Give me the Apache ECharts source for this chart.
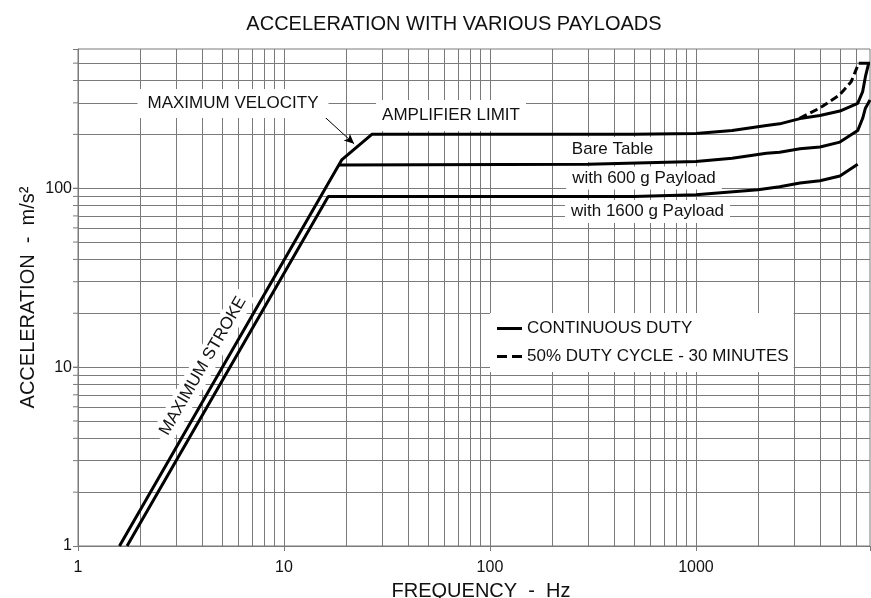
<!DOCTYPE html>
<html>
<head>
<meta charset="utf-8">
<script src="https://cdn.jsdelivr.net/npm/echarts@6.0.0/dist/echarts.min.js"></script>
<style>
  html, body { margin: 0; padding: 0; background: #fff; }
  #chart { width: 871px; height: 598px; }
</style>
</head>
<body>
<div id="chart"></div>
<script>
// curves: [frequency Hz, acceleration m/s2]
const bareTable = [[1.59, 1], [19.06, 144], [26.7, 200], [500, 200], [1000, 202], [1500, 210], [2200, 224], [2550, 229], [3200, 245], [4000, 255], [5000, 270], [6100, 298], [6450, 347], [6650, 420], [6900, 500]];
const payload600 = [[18.47, 135], [300, 136], [1000, 141], [1500, 147], [2200, 157], [2550, 159], [3200, 166], [4000, 170], [5000, 181], [6100, 210], [6450, 246], [6650, 280], [7000, 311]];
const payload1600 = [[1.73, 1], [16.4, 90], [500, 90], [1000, 92], [2000, 98], [2550, 102], [3200, 107], [4000, 110], [5000, 117], [6100, 136]];
const dutyCycle50 = [[3185, 246], [3981, 280], [4977, 332], [5673, 394], [6175, 500]];
const topCap = [[6175, 500], [7000, 500]];
const velocityArrow = [[15.1, 262], [21.9, 177]];

const xTicks = [1, 10, 100, 1000];
const yTicks = [1, 10, 100];
const xGrid = [2, 3, 4, 5, 6, 7, 8, 9, 10, 20, 30, 40, 50, 60, 70, 80, 90, 100, 200, 300, 400, 500, 600, 700, 800, 900, 1000, 2000, 3000, 4000, 5000, 6000];
const yGrid = [2, 3, 4, 5, 6, 7, 8, 9, 10, 20, 30, 40, 50, 60, 70, 80, 90, 100, 200, 300, 400, 500];

const FONT = '"Liberation Sans", Arial, sans-serif';
const gridColor = '#7a7a7a';

let chart = echarts.init(document.getElementById('chart'));

function note(text, x, y, pad, rot) {
  return {
    type: 'text', x: x, y: y, rotation: rot || 0, z: 10,
    style: {
      text: text, font: '17px ' + FONT, fill: '#111',
      align: 'center', verticalAlign: 'middle',
      backgroundColor: '#fff', padding: pad
    }
  };
}

let curve = (name, data, dashed) => ({
  name: name,
  type: 'line',
  data: data,
  symbol: 'none',
  showSymbol: false,
  z: 20,
  animation: false,
  lineStyle: { color: '#000', width: 3, type: dashed ? [8, 4] : 'solid' },
  itemStyle: { color: '#000' }
});

let option = {
  animation: false,
  color: ['#000'],
  title: {
    text: 'ACCELERATION WITH VARIOUS PAYLOADS',
    left: 454, top: 14, padding: 0, textAlign: 'center',
    textStyle: { fontFamily: FONT, fontSize: 20, fontWeight: 'normal', color: '#111' }
  },
  legend: {
    data: [
      { name: 'CONTINUOUS DUTY', icon: 'path://M0,0H25V3H0Z' },
      { name: '50% DUTY CYCLE - 30 MINUTES', icon: 'path://M0,0H10V3H0Z M15,0H25V3H15Z' }
    ],
    orient: 'vertical',
    left: 490, top: 313,
    z: 15,
    padding: [7, 5, 7, 7],
    itemWidth: 25, itemHeight: 14, itemGap: 11,
    backgroundColor: '#fff',
    selectedMode: false,
    itemStyle: { color: '#000', borderWidth: 0 },
    textStyle: { fontFamily: FONT, fontSize: 17, color: '#111' }
  },
  grid: {
    left: 78, right: 1, top: 49, bottom: 52,
    outerBoundsMode: 'none',
    containLabel: false,
    show: true, borderColor: gridColor, borderWidth: 1
  },
  xAxis: {
    type: 'log', logBase: 10, min: 1, max: 7000,
    name: 'FREQUENCY  -  Hz', nameLocation: 'middle', nameGap: 35,
    nameMoveOverlap: false,
    nameTextStyle: { fontFamily: FONT, fontSize: 20, color: '#111', padding: [0, 0, 0, 14] },
    axisLine: { lineStyle: { color: gridColor } },
    axisTick: { show: true, length: 5, lineStyle: { color: gridColor } },
    axisLabel: {
      fontFamily: FONT, fontSize: 16, color: '#111', margin: 14,
      formatter: (v) => (xTicks.indexOf(v) >= 0 ? String(v) : '')
    },
    splitLine: { show: false }
  },
  yAxis: {
    type: 'log', logBase: 10, min: 1, max: 600,
    name: 'ACCELERATION  -  m/s²', nameLocation: 'middle', nameGap: 40,
    nameMoveOverlap: false,
    nameTextStyle: { fontFamily: FONT, fontSize: 20, color: '#111' },
    axisLine: { lineStyle: { color: gridColor } },
    axisTick: { show: true, length: 5, lineStyle: { color: gridColor } },
    axisLabel: {
      fontFamily: FONT, fontSize: 16, color: '#111', margin: 6,
      formatter: (v) => (yTicks.indexOf(v) >= 0 ? String(v) : '')
    },
    splitLine: { show: false }
  },
  graphic: [
    note('MAXIMUM VELOCITY', 233, 103.5, [6, 10]),
    note('AMPLIFIER LIMIT', 451, 115.5, [7, 6]),
    note('Bare Table', 612.5, 149.5, [4, 6]),
    note('with 600 g Payload', 644, 178, [3, 6]),
    note('with 1600 g Payload', 647.5, 211.5, [3, 6]),
    note('MAXIMUM STROKE', 203, 366, [3, 6], Math.PI / 3)
  ],
  series: [
    {
      // log grid
      name: 'grid',
      type: 'line',
      data: [],
      z: 1,
      silent: true,
      markLine: {
        silent: true,
        animation: false,
        symbol: ['none', 'none'],
        label: { show: false },
        lineStyle: { color: gridColor, width: 1, type: 'solid' },
        data: xGrid.map((v) => ({ xAxis: v })).concat(yGrid.map((v) => ({ yAxis: v })))
      }
    },
    {
      // minor ticks on the left axis
      type: 'custom',
      silent: true,
      clip: false,
      z: 1,
      data: yGrid.map((v) => [1, v]),
      renderItem: (params, api) => {
        let p = api.coord([api.value(0), api.value(1)]);
        return {
          type: 'line',
          shape: { x1: p[0] - 5, y1: p[1], x2: p[0], y2: p[1] },
          style: { stroke: gridColor, lineWidth: 1 }
        };
      }
    },
    curve('CONTINUOUS DUTY', bareTable),
    curve('CONTINUOUS DUTY', payload600),
    curve('CONTINUOUS DUTY', payload1600),
    curve('CONTINUOUS DUTY', topCap),
    Object.assign(curve('50% DUTY CYCLE - 30 MINUTES', dutyCycle50, true), {
      markLine: {
        silent: true,
        animation: false,
        symbol: ['none', 'arrow'],
        symbolSize: [7, 10],
        label: { show: false },
        lineStyle: { color: '#000', width: 1, type: 'solid' },
        data: [[{ coord: velocityArrow[0] }, { coord: velocityArrow[1] }]]
      }
    })
  ]
};

chart.setOption(option);
</script>
</body>
</html>
